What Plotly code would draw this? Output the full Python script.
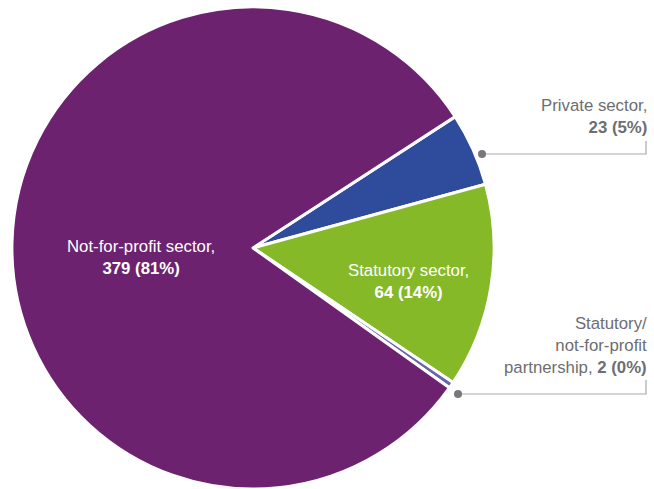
import plotly.graph_objects as go

# Organisations by sector
sectors = ["Private sector", "Statutory sector", "Statutory/not-for-profit partnership", "Not-for-profit sector"]
counts = [23, 64, 2, 379]
label_names = ["Private sector,", "Statutory sector,", "Statutory/<br>not-for-profit<br>partnership,", "Not-for-profit sector,"]
colors = ["#2f4b9b", "#86b928", "#6a64a8", "#6d2270"]

W, H = 654, 489
total = sum(counts)
pcts = [round(100 * c / total) for c in counts]


def label_text(i, sep):
    return f"{label_names[i]}{sep}<b>{counts[i]} ({pcts[i]}%)</b>"


fig = go.Figure(
    go.Pie(
        labels=sectors,
        values=counts,
        sort=False,
        direction="clockwise",
        rotation=57,
        marker=dict(colors=colors, line=dict(color="white", width=3)),
        textinfo="none",
        hoverinfo="label+value+percent",
        showlegend=False,
        domain=dict(x=[(253 - 242) / W, (253 + 242) / W], y=[0, 0.986]),
    )
)

gray_text = "#6d6e71"
font_family = "Liberation Sans, Arial, Helvetica, sans-serif"
fs = 16.8

annotations = [
    # inside labels
    dict(x=141 / W, y=1 - 257 / H, text=label_text(3, "<br>"), font=dict(color="white", size=fs, family=font_family),
         xanchor="center", yanchor="middle", align="center"),
    dict(x=408 / W, y=1 - 281 / H, text=label_text(1, "<br>"), font=dict(color="white", size=fs, family=font_family),
         xanchor="center", yanchor="middle", align="center"),
    # outside labels
    dict(x=649 / W, y=1 - 116 / H, text=label_text(0, "<br>"), font=dict(color=gray_text, size=fs, family=font_family),
         xanchor="right", yanchor="middle", align="right"),
    dict(x=649 / W, y=1 - 345 / H, text=label_text(2, " "), font=dict(color=gray_text, size=fs, family=font_family),
         xanchor="right", yanchor="middle", align="right"),
]
for a in annotations:
    a.update(xref="paper", yref="paper", showarrow=False)


def px(x, y):
    return x / W, 1 - y / H


line_col = "#a7a9ac"
dot_col = "#77787b"
shapes = []
for (dx, dy), top in [((482, 154), 141), ((458, 394), 380)]:
    x0, y0 = px(dx, dy)
    x1, _ = px(646, dy)
    _, y2 = px(646, top)
    shapes.append(dict(type="path", xref="paper", yref="paper",
                       path=f"M {x0},{y0} L {x1},{y0} L {x1},{y2}",
                       line=dict(color=line_col, width=1.2)))
    r = 4
    shapes.append(dict(type="circle", xref="paper", yref="paper",
                       x0=(dx - r) / W, x1=(dx + r) / W, y0=1 - (dy + r) / H, y1=1 - (dy - r) / H,
                       fillcolor=dot_col, line=dict(width=0)))

fig.update_layout(
    width=W, height=H,
    margin=dict(l=0, r=0, t=0, b=0, pad=0),
    paper_bgcolor="white", plot_bgcolor="white",
    annotations=annotations,
    shapes=shapes,
    font=dict(family=font_family),
)

fig.write_html("out.html")
